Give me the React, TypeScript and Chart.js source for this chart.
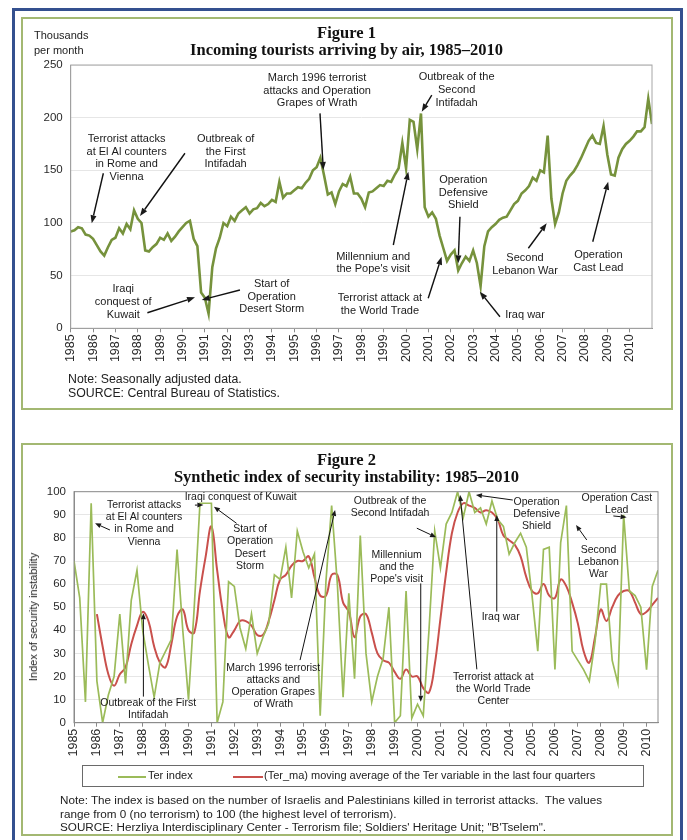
import React, { useEffect, useRef } from "react";
import { Chart, registerables } from "chart.js";

Chart.register(...registerables);

// ---------- data ----------
const years = [1985, 1986, 1987, 1988, 1989, 1990, 1991, 1992, 1993, 1994, 1995, 1996, 1997, 1998, 1999, 2000, 2001, 2002, 2003, 2004, 2005, 2006, 2007, 2008, 2009, 2010];
const tourTicks = [0, 50, 100, 150, 200, 250];
const terTicks = [0, 10, 20, 30, 40, 50, 60, 70, 80, 90, 100];

// Figure 1: thousands of tourists per month, read every two months from Jan 1985
const tourStartYear = 1985;
const tourPointsPerYear = 6;
const tourValues = [
  92, 93, 96, 95, 89, 88, 85, 79, 73, 69, 77, 84,
  86, 95, 90, 99, 94, 112, 104, 100, 74, 73, 77, 80,
  86, 84, 90, 83, 87, 92, 96, 100, 102, 85, 78, 34,
  29, 14, 58, 76, 86, 100, 97, 106, 102, 109, 112, 115,
  109, 113, 114, 119, 116, 118, 122, 120, 139, 124, 128, 128,
  131, 134, 133, 138, 142, 150, 153, 162, 145, 127, 129, 118,
  130, 137, 135, 144, 128, 128, 123, 115, 129, 130, 133, 136,
  135, 140, 139, 146, 152, 176, 152, 198, 196, 170, 204, 115,
  106, 110, 104, 88, 76, 64, 70, 74, 55, 62, 68, 64,
  74, 62, 40, 78, 92, 96, 99, 103, 105, 106, 112, 118,
  121, 128, 131, 135, 143, 140, 150, 148, 183, 123, 99, 110,
  128, 140, 145, 149, 155, 162, 170, 178, 183, 176, 175, 192,
  165, 146, 145, 162, 170, 175, 178, 182, 187, 187, 191, 218,
  194,
];

// Figure 2: quarterly index from 1985 Q1
const terStartYear = 1985;
const terPointsPerYear = 4;
const terIndex = [
  70, 54, 9, 95, 18, 0, 12, 20, 47, 17, 53, 66,
  40, 25, 11, 26, 31, 36, 75, 40, 10, 50, 95, 95,
  95, 0, 9, 61, 59, 41, 32, 47, 30, 37, 43, 64,
  62, 76, 54, 83, 74, 67, 73, 3, 61, 94, 60, 11,
  56, 19, 81, 30, 9, 20, 28, 50, 0, 3, 57, 2,
  8, 3, 40, 83, 67, 86, 91, 100, 89, 100, 91, 93,
  86, 96, 88, 85, 73, 78, 82, 76, 55, 31, 75, 76,
  23, 78, 94, 31, 27, 23, 18, 35, 60, 60, 27, 17,
  90, 57, 55, 50, 23, 59, 66,
];
const terMa = [
  null, null, null, null, 47, 33, 21, 16, 21, 24, 34, 42,
  48, 44, 33, 26, 24, 34, 46, 49, 40, 39, 57, 72,
  85, 66, 48, 37, 40, 44, 44, 42, 38, 38, 44, 53,
  62, 64, 68, 70, 70, 72, 63, 55, 55, 64, 64, 52,
  48, 37, 46, 47, 39, 30, 27, 26, 22, 19, 23, 20,
  20, 15, 13, 25, 45, 65, 82, 91, 95, 94, 93, 91,
  92, 91, 88, 81, 79, 77, 72, 63, 57, 56, 60, 55,
  54, 62, 59, 52, 43, 31, 26, 37, 49, 44, 50, 55,
  57, 57, 52, 47, 48, 51, 54,
];
const seriesNames = ["Ter index", "(Ter_ma) moving average of the Ter variable in the last four quarters"];

// ---------- annotations (in data coordinates) ----------
type Note = { lines: string[]; at: [number, number]; arrow?: [number, number, number, number] };

const fig1Notes: Note[] = [
  { lines: ["Terrorist attacks", "at El Al counters", "in Rome and", "Vienna"], at: [1987.5, 179.7], arrow: [1986.46, 147.2, 1985.94, 99.7] },
  { lines: ["Outbreak of", "the First", "Intifadah"], at: [1991.93, 179.7], arrow: [1990.11, 166.2, 1988.1, 106.6] },
  { lines: ["Iraqi", "conquest of", "Kuwait"], at: [1987.35, 37.0], arrow: [1988.43, 14.8, 1990.56, 29.4] },
  { lines: ["Start of", "Operation", "Desert Storm"], at: [1993.99, 42.1], arrow: [1992.57, 36.4, 1990.86, 26.9] },
  { lines: ["March 1996 terrorist", "attacks and Operation", "Grapes of Wrath"], at: [1996.02, 237.7], arrow: [1996.15, 204.1, 1996.3, 150.3] },
  { lines: ["Outbreak of the", "Second", "Intifadah"], at: [2002.26, 238.3], arrow: [2001.15, 221.5, 2000.7, 205.7] },
  { lines: ["Millennium and", "the Pope's visit"], at: [1998.53, 68.0], arrow: [1999.43, 79.1, 2000.1, 148.7] },
  { lines: ["Terrorist attack at", "the World Trade"], at: [1998.83, 28.5], arrow: [2000.99, 28.5, 2001.59, 68.0] },
  { lines: ["Operation", "Defensive", "Shield"], at: [2002.56, 140.8], arrow: [2002.41, 106.0, 2002.33, 61.7] },
  { lines: ["Iraq war"], at: [2005.32, 12.6], arrow: [2004.2, 11.0, 2003.3, 34.8] },
  { lines: ["Second", "Lebanon War"], at: [2005.32, 66.5], arrow: [2005.47, 76.0, 2006.29, 99.7] },
  { lines: ["Operation", "Cast Lead"], at: [2008.6, 69.6], arrow: [2008.35, 82.2, 2009.04, 139.2] },
];

const fig2Notes: Note[] = [
  { lines: ["Terrorist attacks", "at El Al counters", "in Rome and", "Vienna"], at: [1988.06, 94.2], arrow: [1986.57, 83.4, 1985.92, 86.3] },
  { lines: ["Iraqi conquest of Kuwait"], at: [1992.28, 97.8], arrow: [1990.28, 94.2, 1990.65, 94.2] },
  { lines: ["Start of", "Operation", "Desert", "Storm"], at: [1992.69, 83.7], arrow: [1992.1, 86.3, 1991.11, 93.5] },
  { lines: ["Outbreak of the First", "Intifadah"], at: [1988.24, 8.66], arrow: [1988.03, 11.3, 1988.03, 47.4] },
  { lines: ["March 1996 terrorist", "attacks and", "Operation Grapes", "of Wrath"], at: [1993.7, 23.8], arrow: [1994.87, 27.1, 1996.4, 92.1] },
  { lines: ["Outbreak of the", "Second Intifadah"], at: [1998.8, 96.1], arrow: [1999.97, 84.2, 2000.81, 80.3] },
  { lines: ["Millennium", "and the", "Pope's visit"], at: [1999.09, 72.6], arrow: [2000.14, 60.3, 2000.14, 9.1] },
  { lines: ["Terrorist attack at", "the World Trade", "Center"], at: [2003.31, 19.7], arrow: [2002.59, 23.1, 2001.86, 98.6] },
  { lines: ["Iraq war"], at: [2003.63, 45.6], arrow: [2003.46, 48.1, 2003.46, 89.9] },
  { lines: ["Operation", "Defensive", "Shield"], at: [2005.2, 95.7], arrow: [2004.16, 96.4, 2002.55, 98.6] },
  { lines: ["Operation Cast", "Lead"], at: [2008.7, 97.1], arrow: [2008.55, 89.5, 2009.13, 88.9] },
  { lines: ["Second", "Lebanon", "War"], at: [2007.9, 74.8], arrow: [2007.39, 79.1, 2006.92, 85.6] },
];

const SANS = '"Liberation Sans", Arial, sans-serif';
const SERIF = '"Liberation Serif", "Times New Roman", serif';

function drawArrow(ctx: CanvasRenderingContext2D, x1: number, y1: number, x2: number, y2: number, lw: number, hl: number, hw: number) {
  const ang = Math.atan2(y2 - y1, x2 - x1);
  const bx = x2 - hl * Math.cos(ang);
  const by = y2 - hl * Math.sin(ang);
  ctx.lineWidth = lw;
  ctx.beginPath();
  ctx.moveTo(x1, y1);
  ctx.lineTo(bx, by);
  ctx.stroke();
  ctx.beginPath();
  ctx.moveTo(x2, y2);
  ctx.lineTo(bx + (hw / 2) * Math.sin(ang), by - (hw / 2) * Math.cos(ang));
  ctx.lineTo(bx - (hw / 2) * Math.sin(ang), by + (hw / 2) * Math.cos(ang));
  ctx.closePath();
  ctx.fill();
}

function notesPlugin(notes: Note[], opt: { font: string; lineH: number; lw: number; hl: number; hw: number; frame: string }) {
  return {
    id: "notes",
    afterDatasetsDraw(chart: any) {
      const { ctx, chartArea, scales } = chart;
      const xs = scales.x;
      const ys = scales.y;
      ctx.save();
      ctx.strokeStyle = opt.frame;
      ctx.lineWidth = 1;
      ctx.strokeRect(chartArea.left, chartArea.top, chartArea.right - chartArea.left, chartArea.bottom - chartArea.top);
      ctx.fillStyle = "#1a1a1a";
      ctx.strokeStyle = "#111";
      ctx.font = opt.font;
      ctx.textAlign = "center";
      ctx.textBaseline = "middle";
      for (const n of notes) {
        const px = xs.getPixelForValue(n.at[0]);
        const py = ys.getPixelForValue(n.at[1]);
        n.lines.forEach((l, i) => ctx.fillText(l, px, py + i * opt.lineH));
        if (n.arrow) {
          const a = n.arrow;
          drawArrow(ctx, xs.getPixelForValue(a[0]), ys.getPixelForValue(a[1]), xs.getPixelForValue(a[2]), ys.getPixelForValue(a[3]), opt.lw, opt.hl, opt.hw);
        }
      }
      ctx.restore();
    },
  };
}

function xScale(min: number, max: number, h: number) {
  return {
    type: "linear",
    min,
    max,
    afterBuildTicks: (s: any) => {
      s.ticks = years.map((v) => ({ value: v }));
    },
    afterFit: (s: any) => {
      s.height = h;
    },
    ticks: {
      autoSkip: false,
      minRotation: 90,
      maxRotation: 90,
      padding: 2,
      color: "#2a2a2a",
      font: { family: SANS, size: 12.5 },
      callback: (v: any) => String(v),
    },
    grid: { drawOnChartArea: false, drawTicks: true, tickLength: 4, color: "#8a8a8a" },
    border: { color: "#8a8a8a", width: 1 },
  };
}

function yScale(min: number, max: number, ticks: number[], w: number) {
  return {
    min,
    max,
    afterBuildTicks: (s: any) => {
      s.ticks = ticks.map((v) => ({ value: v }));
    },
    afterFit: (s: any) => {
      s.width = w;
    },
    ticks: { padding: 8, color: "#2a2a2a", font: { family: SANS, size: 11.5 } },
    grid: { color: "#e6e6e6", drawTicks: false },
    border: { color: "#8a8a8a", width: 1 },
  };
}

const abs = (s: React.CSSProperties): React.CSSProperties => ({ position: "absolute", ...s });

export default function App() {
  const c1 = useRef<HTMLCanvasElement | null>(null);
  const c2 = useRef<HTMLCanvasElement | null>(null);

  useEffect(() => {
    const ch1 = new Chart(c1.current as HTMLCanvasElement, {
      type: "line",
      data: {
        datasets: [
          {
            data: tourValues.map((v, i) => ({ x: tourStartYear + i / tourPointsPerYear, y: v })),
            borderColor: "#76923c",
            borderWidth: 2.6,
            pointRadius: 0,
            tension: 0,
            fill: false,
          },
        ],
      },
      options: {
        responsive: false,
        animation: false,
        devicePixelRatio: 1,
        layout: { padding: { left: 0, top: 46, right: 18, bottom: 38.7 } },
        plugins: { legend: { display: false }, tooltip: { enabled: false }, title: { display: false } },
        scales: {
          x: xScale(1985, 2011, 40),
          y: yScale(0, 250, tourTicks, 47.7),
        },
      } as any,
      plugins: [notesPlugin(fig1Notes, { font: `11px ${SANS}`, lineH: 12.7, lw: 1.4, hl: 8, hw: 6, frame: "#a6a6a6" })],
    });

    const ch2 = new Chart(c2.current as HTMLCanvasElement, {
      type: "line",
      data: {
        datasets: [
          {
            label: seriesNames[0],
            data: terIndex.map((v, i) => ({ x: terStartYear + i / terPointsPerYear, y: v })),
            borderColor: "#9bbb59",
            borderWidth: 1.7,
            pointRadius: 0,
            tension: 0,
            fill: false,
          },
          {
            label: seriesNames[1],
            data: terMa.map((v, i) => ({ x: terStartYear + i / terPointsPerYear, y: v })),
            borderColor: "#c9504c",
            borderWidth: 2,
            pointRadius: 0,
            tension: 0.4,
            fill: false,
            spanGaps: false,
          },
        ],
      },
      options: {
        responsive: false,
        animation: false,
        devicePixelRatio: 1,
        layout: { padding: { left: 0, top: 46.7, right: 12, bottom: 70.3 } },
        plugins: { legend: { display: false }, tooltip: { enabled: false }, title: { display: false } },
        scales: {
          x: xScale(1985, 2010.5, 40),
          y: yScale(0, 100, terTicks, 51),
        },
      } as any,
      plugins: [notesPlugin(fig2Notes, { font: `10.5px ${SANS}`, lineH: 12.2, lw: 1, hl: 6, hw: 5, frame: "#8c8c8c" })],
    });

    return () => {
      ch1.destroy();
      ch2.destroy();
    };
  }, []);

  const sans11: React.CSSProperties = { fontFamily: SANS, fontSize: 11, color: "#222", whiteSpace: "nowrap" };
  const title: React.CSSProperties = { fontFamily: SERIF, fontWeight: "bold", fontSize: 16.5, color: "#111", textAlign: "center", lineHeight: "17px" };

  return (
    <div style={abs({ left: 0, top: 0, width: 687, height: 840, overflow: "hidden", background: "#fff" })}>
      <div style={abs({ left: 12, top: 8, width: 671, height: 870, border: "3px solid #34508f", boxSizing: "border-box" })} />
      <div style={abs({ left: 21, top: 17, width: 652, height: 393, border: "2px solid #a3b872", boxSizing: "border-box" })} />
      <div style={abs({ left: 21, top: 443, width: 652, height: 393, border: "2px solid #a3b872", boxSizing: "border-box" })} />

      <canvas ref={c1} width={647} height={388} style={abs({ left: 23, top: 19, display: "block" })} />
      <canvas ref={c2} width={647} height={388} style={abs({ left: 23, top: 445, display: "block" })} />

      {/* Figure 1 texts */}
      <div style={abs({ left: 23, top: 24, width: 647, ...title })}>
        <div>Figure 1</div>
        <div>Incoming tourists arriving by air, 1985–2010</div>
      </div>
      <div style={abs({ left: 34, top: 28, lineHeight: "15px", ...sans11 })}>
        <div>Thousands</div>
        <div>per month</div>
      </div>
      <div style={abs({ left: 68, top: 372, lineHeight: "14px", ...sans11, fontSize: 12.3 })}>
        <div>Note: Seasonally adjusted data.</div>
        <div>SOURCE: Central Bureau of Statistics.</div>
      </div>

      {/* Figure 2 texts */}
      <div style={abs({ left: 23, top: 451, width: 647, ...title })}>
        <div>Figure 2</div>
        <div>Synthetic index of security instability: 1985–2010</div>
      </div>
      <div style={abs({ left: 33, top: 617, transform: "translate(-50%, -50%) rotate(-90deg)", ...sans11 })}>Index of security instability</div>
      <div style={abs({ left: 82, top: 765, width: 562, height: 22, border: "1px solid #6a6a6a", boxSizing: "border-box" })}>
        <div style={abs({ left: 35, top: 10, width: 28, height: 0, borderTop: "2px solid #9bbb59" })} />
        <div style={abs({ left: 65, top: 3, ...sans11 })}>{seriesNames[0]}</div>
        <div style={abs({ left: 150, top: 10, width: 30, height: 0, borderTop: "2px solid #c9504c" })} />
        <div style={abs({ left: 181, top: 3, ...sans11 })}>{seriesNames[1]}</div>
      </div>
      <div style={abs({ left: 60, top: 793, lineHeight: "13.5px", ...sans11, fontSize: 11.7 })}>
        <div>Note: The index is based on the number of Israelis and Palestinians killed in terrorist attacks.&nbsp; The values</div>
        <div>range from 0 (no terrorism) to 100 (the highest level of terrorism).</div>
        <div>SOURCE: Herzliya Interdisciplinary Center - Terrorism file; Soldiers' Heritage Unit; "B'Tselem".</div>
      </div>
    </div>
  );
}
